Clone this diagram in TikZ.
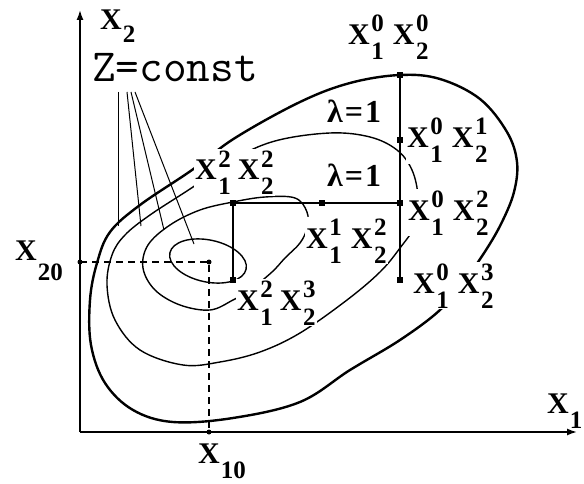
\documentclass[tikz,border=0pt]{standalone}
\usepackage{fontspec}
\setmainfont{Liberation Serif}
\usetikzlibrary{arrows.meta}
\newcommand\Xfont{\fontsize{30}{31}\selectfont\bfseries}
\newcommand\Dfont{\fontsize{25}{26}\selectfont\bfseries}
\newcommand\XX[2]{{\Xfont X}\kern1.5pt\rlap{\raisebox{-15pt}{\Dfont #1}}\raisebox{13pt}{\Dfont #2}}
\newcommand\XS[2][15pt]{{\Xfont X}\kern1pt\raisebox{-#1}{\Dfont #2}}
\begin{document}
\begin{tikzpicture}[x=1pt,y=-1pt,
  contour/.style={line width=1.4pt},
  outer/.style={line width=2.4pt},
  lab/.style={anchor=base west, inner sep=1pt, fill=white},
  axlab/.style={anchor=base west, inner sep=0pt},
  pt/.style={fill, rectangle, minimum size=6pt, inner sep=0pt},
  dot/.style={fill, circle, minimum size=5pt, inner sep=0pt},
  axis/.style={line width=1.6pt, -{Latex[length=10pt,width=7pt]}},
  guide/.style={line width=1.2pt, dash pattern=on 7pt off 5pt},
  leader/.style={line width=1pt},
  route/.style={line width=1.5pt}]
\useasboundingbox (0,0) rectangle (584,484);

% axes
\coordinate (O) at (80,432);
\coordinate (Xend) at (577,432);
\coordinate (Yend) at (80,10);
\draw[axis] (O) -- (Xend);
\draw[axis] (O) -- (Yend);

% contours
\draw[outer] plot[smooth cycle, tension=0.6] coordinates {
  (192,170) (235,138) (300,102) (350,83) (400,75) (440,79) (480,99) (507,132)
  (517,162) (514,192) (502,222) (486,250) (465,280) (440,310) (400,340)
  (350,370) (300,402) (233,418) (173,422) (133,410) (105,383) (91,345)
  (90,300) (97,263) (110,232) (140,205)};
\draw[contour] plot[smooth cycle, tension=0.6] coordinates {
  (275,141) (330,133) (370,137) (397,150) (412,170) (418,197) (415,225)
  (400,248) (380,272) (347,300) (300,333) (260,352) (220,362) (183,365)
  (140,350) (115,320) (107,285) (112,255) (125,235) (150,215) (193,187) (232,160)};
\draw[contour] plot[smooth cycle, tension=0.6] coordinates {
  (233,202) (265,197) (295,198) (307,212) (307,228) (300,243) (285,258)
  (272,272) (250,290) (233,300) (210,310) (180,305) (155,290) (143,268)
  (148,245) (170,225) (200,210)};
\draw[contour, rotate around={-12:(208,261)}] (208,261) ellipse (39 and 21);

% guide lines
\node[dot] (c0) at (209,262) {};
\node[dot] (d20) at (80,262) {};
\node[dot] (d10) at (209,432) {};
\draw[guide] (d20.center) -- (c0.center) -- (d10.center);

% leaders from Z=const
\node[inner sep=0pt, anchor=base west] (zc) at (92,82)
  {\ttfamily\fontsize{46}{48}\selectfont\addfontfeatures{FakeBold=1.5}Z=const};
\coordinate (z1) at (118,92);
\coordinate (z2) at (127,92);
\coordinate (z3) at (131,92);
\coordinate (z4) at (135,92);
\coordinate (e1) at (118,226);
\coordinate (e2) at (141,226);
\coordinate (e3) at (164,230);
\coordinate (e4) at (194,244);
\draw[leader] (z1) -- (e1);
\draw[leader] (z2) -- (e2);
\draw[leader] (z3) -- (e3);
\draw[leader] (z4) -- (e4);

% descent route
\node[pt] (p00) at (400,75) {};
\node[pt] (p01) at (400,140) {};
\node[pt] (p02) at (400,203) {};
\node[pt] (p03) at (400,280) {};
\node[pt] (p12) at (322,203) {};
\node[pt] (p22) at (233,203) {};
\node[pt] (p23) at (233,280) {};
\draw[route] (p00.center) -- (p01.center) -- (p02.center) -- (p03.center);
\draw[route] (p22.center) -- (p12.center) -- (p02.center);
\draw[route] (p22.center) -- (p23.center);

% labels
\node[lab] (l00) at (347,45) {\XX{1}{0}\kern9pt\XX{2}{0}};
\node[lab] (l01) at (406,148) {\XX{1}{0}\kern9pt\XX{2}{1}};
\node[lab] (l02) at (407,220) {\XX{1}{0}\kern9pt\XX{2}{2}};
\node[lab] (l03) at (412,293) {\XX{1}{0}\kern9pt\XX{2}{3}};
\node[lab] (l12) at (305,248) {\XX{1}{1}\kern9pt\XX{2}{2}};
\node[lab] (l23) at (236,310) {\XX{1}{2}\kern7pt\XX{2}{3}};
\node[lab] (l22) at (194,180) {\XX{1}{2}\kern7pt\XX{2}{2}};
\node[axlab] (lam1) at (327,123) {\fontsize{32}{34}\selectfont\bfseries λ\kern2pt=\kern2pt1};
\node[axlab] (lam2) at (327,186) {\fontsize{32}{34}\selectfont\bfseries λ\kern2pt=\kern2pt1};
\node[axlab] (x2) at (100,30) {\XS[13pt]{2}};
\node[axlab] (x1) at (547,413) {\XS[15pt]{1}};
\node[axlab] (x20) at (15,260) {\XS[20pt]{20}};
\node[axlab] (x10) at (198,463) {\XS[15pt]{10}};
\end{tikzpicture}
\end{document}
